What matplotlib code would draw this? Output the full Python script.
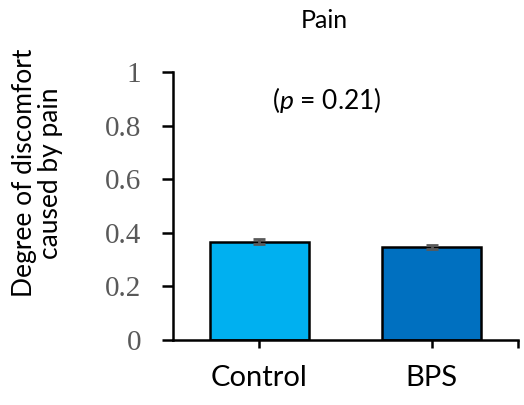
import numpy as np
import matplotlib.pyplot as plt

plt.rcParams['mathtext.fontset'] = 'custom'
plt.rcParams['mathtext.it'] = 'Lato:italic'
plt.rcParams['mathtext.rm'] = 'Lato'

# data
groups = ["Control", "BPS"]
means = [0.366, 0.347]
errors = [0.009, 0.007]
bar_colors = ["#00B0F0", "#0070C0"]

W, H = 524, 405
fig = plt.figure(figsize=(W / 100, H / 100), dpi=100)
ax = fig.add_axes([173 / W, 1 - 340 / H, (518 - 173) / W, (340 - 72) / H])

x = np.arange(len(groups))
ax.bar(x, means, width=0.575, color=bar_colors, edgecolor="black", linewidth=1.8, zorder=2)
ax.errorbar(x, means, yerr=errors, fmt="none", ecolor="#595959", elinewidth=2,
            capsize=4, capthick=2, zorder=3)

ax.set_xlim(-0.5, 1.5)
ax.set_ylim(0, 1)

for s in ["top", "right"]:
    ax.spines[s].set_visible(False)
for s in ["left", "bottom"]:
    ax.spines[s].set_linewidth(1.8)
    ax.spines[s].set_color("black")

ax.set_yticks([0, 0.2, 0.4, 0.6, 0.8, 1])
ax.set_yticklabels(["0", "0.2", "0.4", "0.6", "0.8", "1"],
                   fontfamily="Liberation Serif", fontsize=21, color="#595959")
ax.tick_params(axis="y", direction="out", length=8, width=1.8, pad=15)

ax.set_xticks([0, 1, 1.5])
ax.set_xticklabels(groups + [""], fontfamily="Lato", fontsize=21)
ax.tick_params(axis="x", direction="out", length=6, width=1.8, pad=12)

# y label, placed by figure coordinates
fig.text(38 / W, 1 - 173 / H, "Degree of discomfort\ncaused by pain", rotation=90,
         ha="center", va="center", fontfamily="Lato", fontsize=19, linespacing=1.05)

fig.text(324 / W, 1 - 20 / H, "Pain", ha="center", va="center", fontfamily="Lato", fontsize=18)
fig.text(327 / W, 1 - 100 / H, "($p$ = 0.21)", ha="center", va="center",
         fontfamily="Lato", fontsize=19)

fig.savefig("out.png", dpi=100)
